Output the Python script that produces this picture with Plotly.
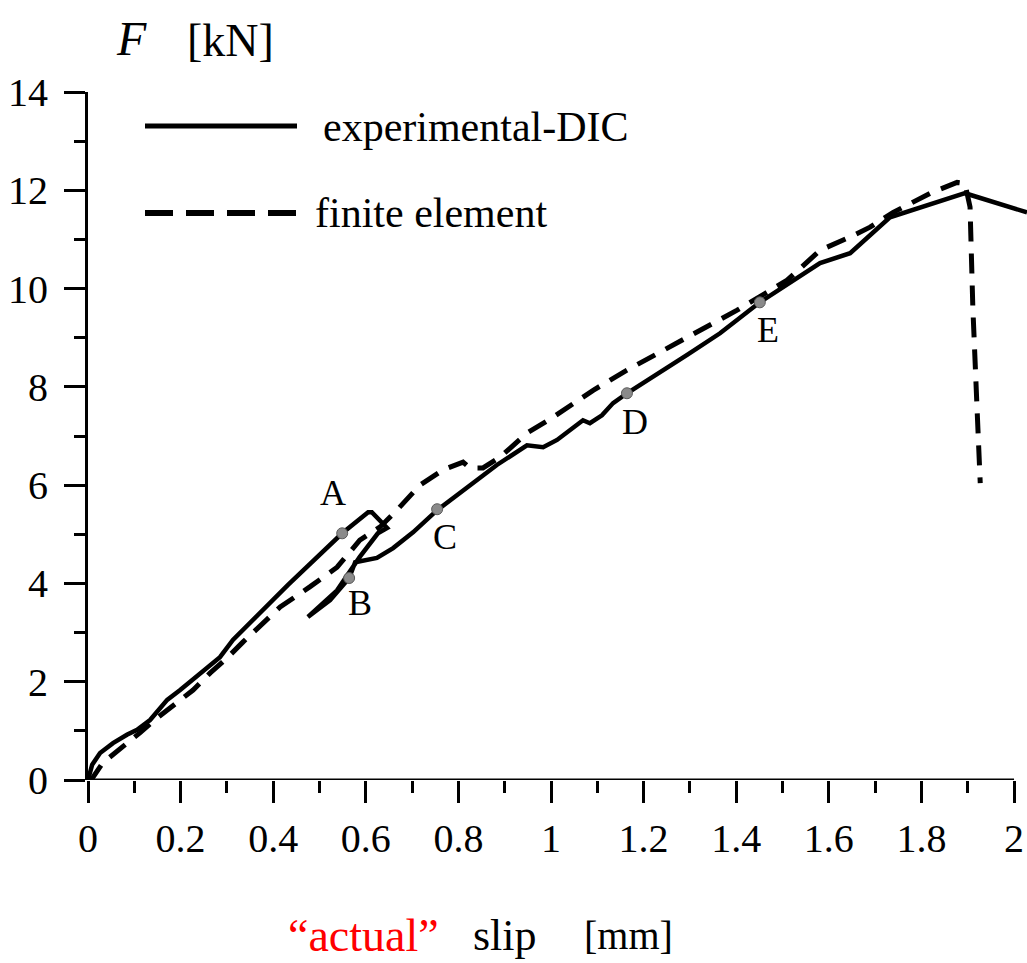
import plotly.graph_objects as go

# ---------------- data ----------------
exp_x = [0, 0.009, 0.026, 0.054, 0.084, 0.106, 0.134, 0.171, 0.199, 0.242, 0.285, 0.313, 0.432,
         0.549, 0.605, 0.613, 0.646, 0.626, 0.587, 0.538, 0.475,
         0.523, 0.564, 0.577, 0.624, 0.659, 0.702, 0.754,
         0.810, 0.883, 0.948, 0.983, 1.013, 1.035, 1.069, 1.084, 1.110, 1.134, 1.164,
         1.294, 1.365, 1.451, 1.523, 1.581, 1.646, 1.732, 1.894, 2.028]
exp_y = [0, 0.31, 0.55, 0.75, 0.92, 1.02, 1.22, 1.63, 1.83, 2.18, 2.50, 2.85, 3.97,
         5.02, 5.45, 5.45, 5.13, 5.02, 4.54, 3.86, 3.32,
         3.66, 4.11, 4.43, 4.52, 4.72, 5.04, 5.49,
         5.90, 6.41, 6.81, 6.77, 6.92, 7.08, 7.32, 7.26, 7.42, 7.67, 7.87,
         8.65, 9.09, 9.72, 10.17, 10.52, 10.72, 11.45, 11.94, 11.55]

fe_x = [0, 0.011, 0.032, 0.054, 0.084, 0.112, 0.149, 0.192, 0.227, 0.264, 0.300, 0.335,
        0.415, 0.479, 0.538, 0.587, 0.631, 0.667, 0.717, 0.767, 0.810, 0.825, 0.853,
        0.890, 0.948, 1.004, 1.091, 1.164, 1.294, 1.402, 1.510, 1.581, 1.646, 1.689,
        1.739, 1.819, 1.877, 1.894, 1.905, 1.911, 1.920, 1.927]
fe_y = [0, 0.06, 0.35, 0.51, 0.75, 0.96, 1.26, 1.57, 1.83, 2.18, 2.48, 2.81,
        3.52, 3.93, 4.33, 4.88, 5.15, 5.49, 6.00, 6.31, 6.47, 6.35, 6.35,
        6.57, 7.06, 7.38, 7.93, 8.34, 9.01, 9.56, 10.17, 10.78, 11.05, 11.25,
        11.55, 11.94, 12.16, 12.14, 11.66, 9.62, 7.59, 6.04]

pt_names = ["A", "B", "C", "D", "E"]
pt_x = [0.549, 0.564, 0.754, 1.164, 1.451]
pt_y = [5.02, 4.11, 5.51, 7.87, 9.72]
lbl_x = [0.529, 0.587, 0.771, 1.181, 1.469]
lbl_y = [5.84, 3.60, 4.94, 7.28, 9.15]

x_ticks = [0, 0.2, 0.4, 0.6, 0.8, 1, 1.2, 1.4, 1.6, 1.8, 2]
x_ticktext = ["0", "0.2", "0.4", "0.6", "0.8", "1", "1.2", "1.4", "1.6", "1.8", "2"]
y_ticks = [0, 2, 4, 6, 8, 10, 12, 14]

# ---------------- figure ----------------
W, H = 1027, 963
L, R, T, B = 88, 0, 92, 183
FONT = "Liberation Serif, Times New Roman, serif"


def px(xp):
    return (xp - L) / (W - L - R)


def py(yp):
    return (H - B - yp) / (H - B - T)


def note(x, y, text, size, color="black", xanchor="center"):
    fig.add_annotation(x=px(x), y=py(y), xref="paper", yref="paper", text=text,
                       showarrow=False, xanchor=xanchor, yanchor="middle",
                       font=dict(family=FONT, size=size, color=color))


fig = go.Figure()
fig.add_trace(go.Scatter(x=fe_x, y=fe_y, mode="lines",
                         line=dict(color="black", width=5, dash="20px,12px"),
                         showlegend=False))
fig.add_trace(go.Scatter(x=exp_x, y=exp_y, mode="lines",
                         line=dict(color="black", width=4.5),
                         showlegend=False))
fig.add_trace(go.Scatter(x=pt_x, y=pt_y, mode="markers",
                         marker=dict(color="#8a8a8a", size=11,
                                     line=dict(color="#5a5a5a", width=1)),
                         showlegend=False))

for n, lx, ly in zip(pt_names, lbl_x, lbl_y):
    fig.add_annotation(x=lx, y=ly, xref="x", yref="y", text=n, showarrow=False,
                       xanchor="center", yanchor="middle",
                       font=dict(family=FONT, size=36, color="black"))

# x axis line from 0 to 2
fig.add_shape(type="line", xref="x", yref="y", x0=0, x1=x_ticks[-1], y0=0, y1=0,
              line=dict(color="black", width=3))

# legend
fig.add_shape(type="line", xref="paper", yref="paper", x0=px(145), x1=px(297),
              y0=py(126), y1=py(126), line=dict(color="black", width=5))
fig.add_shape(type="line", xref="paper", yref="paper", x0=px(145), x1=px(297),
              y0=py(213), y1=py(213), line=dict(color="black", width=6, dash="28px,13px"))
note(321, 127, "experimental-DIC", 42, xanchor="left")
note(313, 213, "finite element", 42, xanchor="left")

# axis titles
note(131, 38, "<i>F</i>", 48)
note(230, 40, "[kN]", 46)
note(441, 935, "“actual”", 46, color="red", xanchor="right")
note(471, 935, "slip", 44, xanchor="left")
note(582, 935, "[mm]", 40, xanchor="left")

fig.update_layout(
    width=W, height=H,
    margin=dict(l=L, r=R, t=T, b=B, pad=0, autoexpand=False),
    paper_bgcolor="white", plot_bgcolor="white",
    xaxis=dict(range=[0, 2.028], showline=False, showgrid=False, zeroline=False,
               automargin=False,
               tickmode="array", tickvals=x_ticks, ticktext=x_ticktext,
               ticks="outside", ticklen=22, tickwidth=3, tickcolor="black",
               ticklabelstandoff=1,
               minor=dict(ticks="outside", ticklen=12, tickwidth=3, tickcolor="black",
                          tickmode="array", tickvals=[0.1, 0.3, 0.5, 0.7, 0.9, 1.1, 1.3, 1.5, 1.7, 1.9]),
               tickfont=dict(family=FONT, size=40, color="black")),
    yaxis=dict(range=[0, 14], showline=True, linewidth=3, linecolor="black",
               showgrid=False, zeroline=False, automargin=False,
               tickmode="array", tickvals=y_ticks,
               ticks="outside", ticklen=21, tickwidth=3, tickcolor="black",
               ticklabelstandoff=8,
               minor=dict(ticks="outside", ticklen=11, tickwidth=3, tickcolor="black",
                          tickmode="array", tickvals=[1, 3, 5, 7, 9, 11, 13]),
               tickfont=dict(family=FONT, size=40, color="black")),
)

fig.write_html("out.html", config={"displayModeBar": False},
               post_script="document.body.style.margin='0';document.body.style.overflow='hidden';")
